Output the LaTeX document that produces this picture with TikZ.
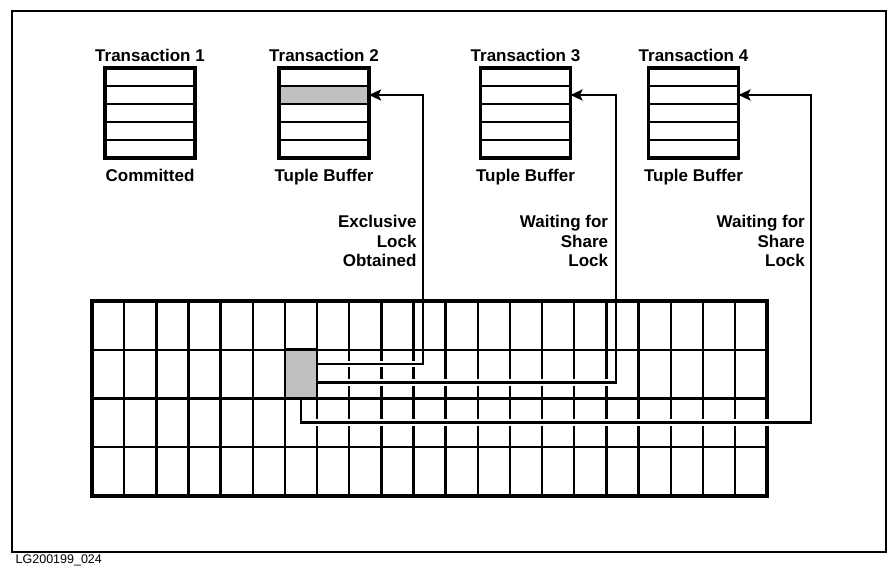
\documentclass[tikz,border=0pt]{standalone}
\usepackage{fontspec}
\setmainfont{Liberation Sans}
\usepackage{tikz}
\usetikzlibrary{arrows.meta, positioning, backgrounds}
\definecolor{lockgray}{RGB}{192,192,192}

\begin{document}
\begin{tikzpicture}[
    x=1pt, y=1pt,
    buffer/.style={rectangle, draw, line width=3.5pt, minimum width=90pt, minimum height=90pt, inner sep=0pt, outer sep=0pt,
      path picture={\foreach \k in {1,...,4}
        \draw[line width=2.4pt] ([yshift=-\k*18pt]path picture bounding box.north west) -- ([yshift=-\k*18pt]path picture bounding box.north east);}},
    title/.style={inner sep=0pt, font=\bfseries\fontsize{17}{19.7}\selectfont},
    note/.style={inner sep=0pt, align=right, anchor=north east, font=\bfseries\fontsize{17}{19.7}\selectfont},
    cell/.style={rectangle, draw, fill=lockgray, line width=2.8pt, minimum width=32.15pt, minimum height=48.75pt, inner sep=0pt, outer sep=0pt},
    gridline/.style={line width=2.4pt},
    gridedge/.style={line width=3.6pt, line cap=rect},
    link/.style={-{Stealth[length=12pt,width=11pt,inset=2.5pt]}, line width=2.4pt,
      preaction={draw=white, line width=6.5pt, arrows=-, shorten <=2.5pt, shorten >=4pt}},
]
\useasboundingbox (0,0) rectangle (896,576);
\draw[line width=2.8pt] (12,24) rectangle (886,565);

\foreach \c in {1,...,20}
  \draw[gridline] ({92+\c*32.15},80) -- ({92+\c*32.15},275);
\draw[gridedge] (767.15,80) -- (767.15,275);

\node[cell] (lock) at (300.975,201.875) {};

\node[buffer] (tb1) at (150,463) {};
\node[buffer] (tb2) at (324,463) {};
\node[buffer] (tb3) at (525.5,463) {};
\node[buffer] (tb4) at (693.5,463) {};
\begin{scope}[on background layer]
  \fill[lockgray] ([yshift=-18pt]tb2.north west) rectangle ([yshift=-36pt]tb2.north east);
\end{scope}

\node[title, above=6pt of tb1] (tt1) {Transaction 1};
\node[title, above=6pt of tb2] (tt2) {Transaction 2};
\node[title, above=6pt of tb3] (tt3) {Transaction 3};
\node[title, above=6pt of tb4] (tt4) {Transaction 4};
\node[title, below=10.5pt of tb1] (st1) {Committed};
\node[title, below=10.5pt of tb2] (st2) {Tuple Buffer};
\node[title, below=10.5pt of tb3] (st3) {Tuple Buffer};
\node[title, below=10.5pt of tb4] (st4) {Tuple Buffer};

\draw[link] ([yshift=10pt]lock.east) -- ++(106,0) |- ([yshift=18pt]tb2.east);
\draw[link] ([yshift=-8.5pt]lock.east) -- ++(299,0) |- ([yshift=18pt]tb3.east);
\draw[link] (lock.south) -- ++(0,-24) -- ++(510,0) |- ([yshift=18pt]tb4.east);

\foreach \r in {1,2,3}
  \draw[gridline] (92,{80+\r*48.75}) -- (767.15,{80+\r*48.75});
\draw[gridedge] (767.15,275) -- (92,275) -- (92,80) -- (767.15,80);

\node[note] (excl) at (416.7,361) {Exclusive\\Lock\\Obtained};
\node[note] (wait3) at (608.3,361) {Waiting for\\Share\\Lock};
\node[note] (wait4) at (805,361) {Waiting for\\Share\\Lock};

\node[anchor=base west, inner sep=0pt, font=\fontsize{12.5}{14}\selectfont] (figid) at (15.5,12.5) {LG200199\_024};
\end{tikzpicture}
\end{document}
